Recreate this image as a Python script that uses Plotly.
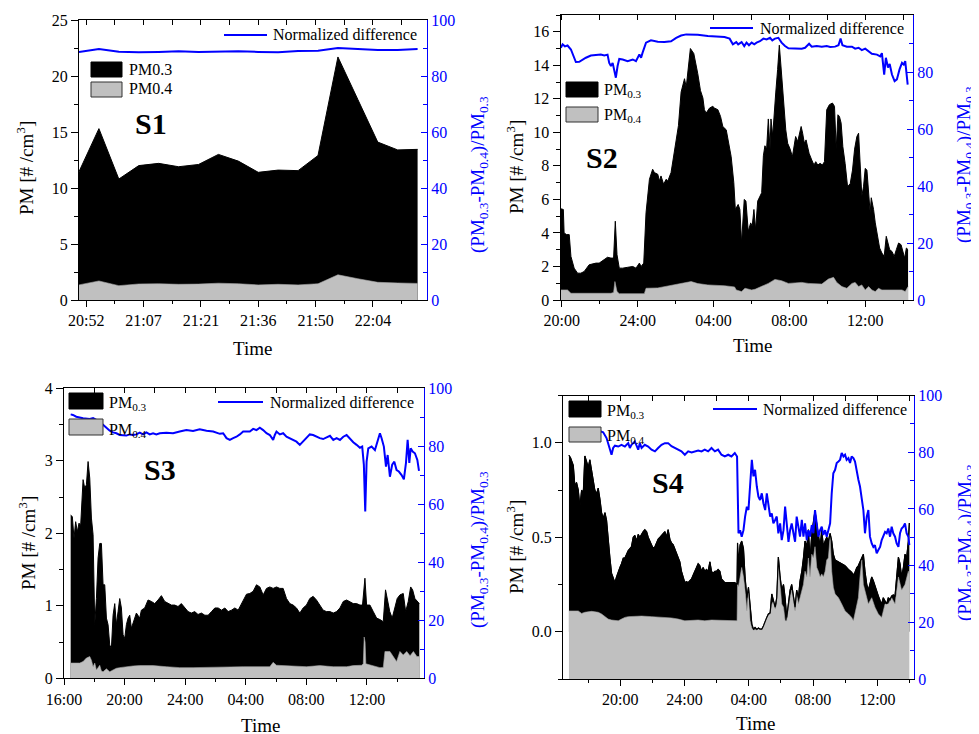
import plotly.graph_objects as go

# page body keeps its default 8px margin, so the figure is drawn 8px in
OFF = 8
W, H = 979 - OFF, 734 - OFF
FONT = "Liberation Serif"
BLUE = "#0000FF"
GREY = "#C0C0C0"

# ---------------- S1 (5-min samples) ----------------
S1_TIME = ["20:51", "20:56", "21:01", "21:06", "21:11", "21:16", "21:21", "21:26", "21:31",
           "21:36", "21:41", "21:46", "21:51", "21:56", "22:01", "22:06", "22:11", "22:16"]
S1_PM03 = [11.46, 15.3, 10.8, 12.0, 12.2, 11.9, 12.1, 13.0, 12.4,
           11.4, 11.6, 11.55, 12.9, 21.7, 17.9, 14.1, 13.4, 13.45]
S1_PM04 = [1.35, 1.7, 1.28, 1.43, 1.45, 1.4, 1.42, 1.5, 1.45,
           1.35, 1.4, 1.35, 1.45, 2.25, 1.9, 1.58, 1.52, 1.48]
S1_ND = [88.6, 89.6, 88.7, 88.5, 88.6, 88.8, 88.6, 88.7, 88.8,
         88.6, 88.5, 88.9, 89.0, 90.0, 89.7, 89.3, 89.3, 89.6]
S1_TICKS = ["20:52", "21:07", "21:21", "21:36", "21:50", "22:04"]

# ---------------- S2 (hours since midnight of first day) ----------------
S2_PM03 = [(19.95, 5.44), (20.08, 5.4), (20.12, 4.0), (20.25, 3.9), (20.39, 3.9), (20.48, 2.6),
           (20.65, 1.9), (20.83, 1.6), (21.00, 1.6), (21.18, 1.7), (21.44, 2.1), (21.80, 2.2),
           (21.97, 2.2), (22.24, 2.4), (22.41, 2.55), (22.59, 2.5), (22.73, 2.5), (22.82, 4.7),
           (22.91, 2.7), (23.03, 1.9), (23.21, 1.9), (23.47, 1.95), (23.74, 2.0), (23.91, 1.9),
           (24.09, 2.2), (24.18, 2.0), (24.32, 2.2), (24.44, 5.2), (24.62, 7.2), (24.79, 7.8),
           (24.88, 7.6), (25.06, 7.5), (25.15, 7.1), (25.23, 7.4), (25.37, 6.9), (25.50, 7.2),
           (25.59, 7.1), (25.76, 7.6), (25.94, 9.0), (26.03, 9.6), (26.15, 10.4), (26.29, 12.4),
           (26.47, 13.2), (26.56, 12.7), (26.64, 13.7), (26.78, 15.0), (26.96, 14.7), (27.08, 14.1),
           (27.17, 13.5), (27.31, 12.5), (27.44, 12.05), (27.52, 11.35), (27.61, 11.15), (27.79, 11.45),
           (27.96, 11.55), (28.05, 11.45), (28.23, 11.35), (28.37, 10.95), (28.49, 10.35), (28.67, 10.15),
           (28.85, 9.15), (28.93, 8.55), (29.07, 7.0), (29.15, 5.4), (29.30, 5.7), (29.39, 5.4),
           (29.48, 3.4), (29.62, 6.0), (29.71, 5.9), (29.83, 4.1), (29.96, 4.6), (30.04, 4.4),
           (30.13, 5.4), (30.22, 4.2), (30.33, 5.9), (30.45, 6.2), (30.54, 6.4), (30.63, 8.6),
           (30.71, 9.2), (30.80, 9.0), (30.89, 10.8), (30.98, 9.0), (31.03, 10.8), (31.12, 9.8),
           (31.21, 11.55), (31.28, 12.35), (31.38, 13.75), (31.47, 15.2), (31.56, 13.9), (31.68, 12.15),
           (31.81, 10.15), (31.91, 9.35), (32.04, 9.0), (32.16, 8.55), (32.25, 9.15), (32.33, 9.75),
           (32.44, 9.45), (32.53, 9.85), (32.62, 10.35), (32.70, 9.95), (32.79, 9.35), (32.88, 9.55),
           (32.97, 9.15), (33.04, 8.75), (33.18, 8.35), (33.30, 8.05), (33.39, 8.25), (33.50, 8.05),
           (33.62, 8.15), (33.74, 8.05), (33.85, 8.25), (33.97, 11.35), (34.11, 11.65), (34.27, 11.75),
           (34.38, 11.55), (34.47, 9.0), (34.56, 11.05), (34.64, 10.95), (34.73, 10.55), (34.82, 9.15),
           (34.94, 8.15), (35.07, 6.75), (35.21, 6.95), (35.33, 7.75), (35.44, 9.0), (35.56, 9.75),
           (35.65, 9.95), (35.74, 8.15), (35.82, 6.2), (35.91, 6.75), (36.00, 7.85), (36.09, 7.75),
           (36.18, 6.2), (36.26, 5.2), (36.32, 6.1), (36.44, 5.4), (36.53, 4.6), (36.65, 3.8),
           (36.76, 3.1), (36.88, 2.8), (37.00, 2.6), (37.11, 3.8), (37.20, 3.4), (37.29, 3.0),
           (37.41, 2.9), (37.53, 2.6), (37.64, 3.0), (37.76, 3.4), (37.89, 3.3), (37.99, 2.8),
           (38.08, 2.5), (38.17, 3.1), (38.26, 3.0)]
S2_PM04 = [(19.95, 0.6), (20.30, 0.6), (20.48, 0.4), (21.53, 0.38), (22.59, 0.4), (22.73, 0.45),
           (22.80, 1.1), (22.91, 0.5), (23.03, 0.38), (24.35, 0.38), (24.44, 0.7), (25.06, 0.72),
           (25.94, 0.9), (26.47, 0.99), (26.82, 1.1), (27.17, 0.98), (27.70, 0.9), (28.58, 0.85),
           (29.11, 0.78), (29.20, 0.6), (29.48, 0.5), (29.66, 0.7), (30.01, 0.6), (30.19, 0.64),
           (30.54, 0.8), (30.89, 0.99), (31.24, 1.23), (31.59, 1.15), (31.95, 0.99), (32.30, 1.0),
           (32.65, 1.05), (33.00, 0.99), (33.36, 0.95), (33.71, 0.95), (34.06, 1.25), (34.33, 1.35),
           (34.50, 1.05), (34.77, 0.8), (35.03, 0.7), (35.30, 0.99), (35.47, 1.05), (35.65, 0.8),
           (35.82, 0.9), (36.00, 0.6), (36.18, 0.8), (36.35, 0.6), (36.53, 0.5), (36.70, 0.7),
           (36.88, 0.6), (37.23, 0.6), (37.58, 0.64), (37.94, 0.6), (38.11, 0.5), (38.26, 0.8)]
S2_ND = [(19.95, 88.5), (20.04, 89.7), (20.16, 89.0), (20.30, 89.3), (20.48, 87.9), (20.65, 85.0),
         (20.74, 83.5), (20.92, 83.6), (21.09, 84.4), (21.27, 85.0), (21.53, 85.8), (21.80, 86.0),
         (22.06, 86.1), (22.24, 85.8), (22.41, 86.1), (22.50, 83.2), (22.59, 82.1), (22.68, 83.2),
         (22.77, 79.7), (22.85, 78.0), (22.94, 82.1), (23.03, 84.6), (23.21, 84.4), (23.47, 83.8),
         (23.74, 84.4), (23.91, 83.8), (24.09, 86.2), (24.18, 85.0), (24.26, 86.8), (24.44, 90.3),
         (24.70, 91.1), (25.06, 90.6), (25.41, 90.5), (25.76, 90.8), (26.03, 92.0), (26.29, 92.8),
         (26.56, 93.2), (27.17, 93.1), (27.70, 92.6), (28.23, 92.4), (28.58, 92.3), (28.85, 91.7),
         (29.02, 89.7), (29.20, 90.5), (29.30, 89.7), (29.48, 90.5), (29.62, 89.1), (29.74, 90.3),
         (29.87, 89.4), (30.01, 90.3), (30.15, 89.7), (30.27, 90.3), (30.45, 90.8), (30.63, 91.7),
         (30.80, 91.4), (30.98, 92.0), (31.10, 91.1), (31.24, 91.7), (31.42, 92.0), (31.59, 90.3),
         (31.77, 89.1), (31.95, 88.3), (32.30, 88.2), (32.65, 88.2), (32.83, 88.5), (33.04, 89.9),
         (33.18, 88.9), (33.44, 89.1), (33.71, 88.9), (33.97, 89.1), (34.15, 88.8), (34.41, 88.9),
         (34.59, 89.4), (34.70, 91.7), (34.80, 89.4), (35.03, 88.9), (35.30, 88.9), (35.47, 88.2),
         (35.65, 88.5), (35.82, 87.7), (36.00, 88.2), (36.18, 87.3), (36.35, 86.4), (36.62, 86.1),
         (36.79, 85.5), (36.88, 86.6), (37.00, 79.1), (37.09, 85.0), (37.20, 81.6), (37.29, 82.8),
         (37.41, 79.1), (37.55, 76.8), (37.67, 77.4), (37.81, 80.9), (37.94, 83.2), (38.03, 82.6),
         (38.11, 83.8), (38.24, 75.6)]

# ---------------- S3 ----------------
S3_PM03 = [(16.44, 2.25), (16.55, 2.23), (16.66, 1.93), (16.77, 2.16), (16.88, 2.02), (16.99, 2.14),
           (17.10, 2.11), (17.26, 2.74), (17.37, 2.62), (17.48, 2.67), (17.59, 2.99), (17.70, 2.76),
           (17.81, 2.21), (17.92, 1.98), (18.03, 0.74), (18.14, 1.10), (18.25, 1.66), (18.36, 1.86),
           (18.47, 1.86), (18.58, 1.29), (18.69, 1.29), (18.80, 0.83), (18.91, 0.74), (19.02, 0.46),
           (19.13, 0.41), (19.24, 0.87), (19.35, 1.03), (19.46, 0.74), (19.57, 0.92), (19.68, 1.10),
           (19.79, 0.97), (19.90, 0.60), (20.01, 0.55), (20.12, 0.74), (20.23, 0.83), (20.34, 0.87),
           (20.45, 0.69), (20.56, 0.76), (20.78, 0.90), (21.00, 0.83), (21.11, 0.94), (21.33, 0.97),
           (21.55, 1.08), (21.77, 1.06), (21.99, 1.03), (22.21, 1.08), (22.43, 1.14), (22.65, 1.06),
           (22.87, 1.03), (23.09, 1.01), (23.31, 1.01), (23.53, 0.99), (23.75, 1.03), (23.97, 0.97),
           (24.19, 0.92), (24.41, 0.90), (24.63, 0.92), (24.85, 0.88), (25.07, 0.90), (25.30, 0.87),
           (25.52, 0.87), (25.74, 0.92), (25.96, 0.97), (26.18, 0.97), (26.40, 0.94), (26.62, 0.97),
           (26.84, 0.92), (27.06, 0.94), (27.28, 0.97), (27.50, 0.94), (27.83, 1.08), (28.05, 1.16),
           (28.27, 1.17), (28.49, 1.20), (28.71, 1.29), (28.93, 1.26), (29.15, 1.15), (29.37, 1.24),
           (29.59, 1.26), (29.81, 1.24), (30.03, 1.26), (30.25, 1.24), (30.47, 1.24), (30.69, 1.10),
           (30.91, 1.03), (31.13, 1.01), (31.35, 0.97), (31.57, 0.90), (31.79, 0.97), (32.01, 1.01),
           (32.23, 1.10), (32.45, 1.13), (32.67, 1.08), (32.89, 1.01), (33.11, 0.94), (33.33, 0.92),
           (33.56, 0.92), (33.78, 0.90), (34.00, 0.92), (34.22, 0.97), (34.44, 1.06), (34.66, 1.08),
           (34.88, 1.06), (35.10, 1.03), (35.32, 1.03), (35.54, 1.01), (35.71, 1.01), (35.87, 1.38),
           (35.98, 1.01), (36.20, 1.01), (36.42, 0.92), (36.64, 0.83), (36.86, 0.81), (37.08, 0.78),
           (37.23, 1.22), (37.36, 1.10), (37.51, 0.92), (37.67, 0.83), (37.84, 0.99), (38.00, 1.10),
           (38.18, 1.15), (38.40, 1.17), (38.56, 0.92), (38.73, 1.06), (38.89, 1.26), (39.02, 1.22),
           (39.17, 1.10), (39.33, 1.06), (39.46, 1.03)]
S3_PM04 = [(16.44, 0.21), (17.04, 0.21), (17.26, 0.23), (17.48, 0.28), (17.70, 0.30), (17.81, 0.25),
           (17.92, 0.16), (18.03, 0.21), (18.14, 0.115), (18.25, 0.147), (18.36, 0.18), (18.47, 0.10),
           (18.58, 0.09), (18.80, 0.13), (19.02, 0.09), (19.24, 0.115), (19.46, 0.138), (19.68, 0.147),
           (20.12, 0.16), (20.56, 0.17), (21.00, 0.175), (21.88, 0.175), (22.76, 0.16), (23.64, 0.147),
           (24.52, 0.147), (25.41, 0.152), (26.29, 0.156), (27.17, 0.16), (27.83, 0.16), (29.59, 0.16),
           (29.81, 0.22), (30.03, 0.18), (30.47, 0.175), (31.13, 0.16), (32.01, 0.16), (32.89, 0.175),
           (33.78, 0.16), (34.66, 0.16), (35.10, 0.175), (35.65, 0.18), (35.76, 0.20), (35.82, 0.57),
           (35.88, 0.50), (35.93, 0.20), (36.09, 0.19), (36.42, 0.18), (36.86, 0.147), (37.08, 0.15),
           (37.19, 0.37), (37.52, 0.37), (37.74, 0.30), (37.96, 0.23), (38.18, 0.37), (38.40, 0.32),
           (38.63, 0.37), (38.85, 0.31), (39.07, 0.37), (39.30, 0.30), (39.46, 0.30)]
S3_ND = [(16.44, 91.0), (16.59, 90.8), (16.81, 90.2), (17.04, 89.9), (17.26, 89.7), (17.70, 89.4),
         (17.92, 89.7), (18.14, 89.1), (18.36, 88.7), (18.58, 87.4), (18.80, 86.4), (19.02, 85.4),
         (19.24, 84.8), (19.46, 84.5), (19.68, 83.9), (19.90, 83.9), (20.12, 83.7), (20.34, 84.1),
         (20.56, 83.9), (20.78, 84.1), (21.00, 84.7), (21.22, 84.1), (21.44, 84.8), (21.66, 84.1),
         (21.88, 84.5), (22.10, 84.1), (22.32, 84.5), (22.76, 84.7), (23.20, 84.5), (23.64, 85.1),
         (24.08, 85.6), (24.52, 85.3), (24.96, 85.9), (25.41, 85.4), (25.85, 85.1), (26.29, 84.3),
         (26.51, 84.5), (26.73, 82.8), (26.95, 82.2), (27.17, 82.8), (27.39, 83.3), (27.61, 84.1),
         (27.83, 85.1), (28.27, 85.1), (28.49, 86.0), (28.71, 85.6), (28.93, 86.4), (29.15, 85.6),
         (29.37, 84.5), (29.59, 83.9), (29.81, 82.2), (29.92, 83.9), (30.03, 85.1), (30.25, 84.1),
         (30.47, 84.5), (30.69, 83.3), (30.91, 82.8), (31.13, 82.2), (31.35, 81.6), (31.57, 80.5),
         (31.79, 81.6), (32.01, 82.8), (32.23, 84.1), (32.45, 83.9), (32.67, 83.3), (32.89, 82.8),
         (33.11, 82.5), (33.33, 83.0), (33.56, 83.6), (33.78, 82.2), (34.00, 82.8), (34.22, 82.2),
         (34.44, 83.3), (34.66, 83.9), (34.88, 82.5), (35.10, 81.4), (35.32, 80.5), (35.54, 79.5),
         (35.69, 79.9), (35.80, 73.6), (35.89, 57.5), (35.98, 74.7), (36.09, 79.3), (36.31, 79.9),
         (36.53, 78.7), (36.68, 81.6), (36.86, 84.5), (36.97, 82.8), (37.12, 79.9), (37.26, 73.0),
         (37.37, 77.0), (37.52, 69.5), (37.67, 73.7), (37.81, 74.7), (37.96, 71.8), (38.11, 71.3),
         (38.29, 70.1), (38.44, 68.6), (38.58, 74.3), (38.69, 82.2), (38.80, 74.3), (38.89, 79.3),
         (39.02, 78.2), (39.17, 77.6), (39.33, 75.3), (39.44, 71.5)]

# ---------------- S4 ----------------
S4_PM03 = [(16.81, 0.934), (16.91, 0.92), (17.08, 0.88), (17.18, 0.77), (17.28, 0.79), (17.39, 0.75),
           (17.49, 0.66), (17.60, 0.75), (17.70, 0.73), (17.80, 0.93), (17.91, 0.90), (18.01, 0.87),
           (18.11, 0.91), (18.22, 0.86), (18.32, 0.80), (18.42, 0.75), (18.53, 0.73), (18.63, 0.76),
           (18.74, 0.70), (18.84, 0.63), (18.94, 0.60), (19.05, 0.63), (19.15, 0.59), (19.25, 0.48),
           (19.36, 0.39), (19.46, 0.31), (19.56, 0.29), (19.67, 0.26), (19.77, 0.29), (19.88, 0.32),
           (19.98, 0.34), (20.08, 0.36), (20.19, 0.39), (20.29, 0.39), (20.39, 0.41), (20.50, 0.43),
           (20.60, 0.44), (20.70, 0.45), (20.81, 0.50), (20.91, 0.51), (21.02, 0.48), (21.12, 0.515),
           (21.22, 0.50), (21.33, 0.52), (21.43, 0.53), (21.53, 0.54), (21.64, 0.53), (21.74, 0.50),
           (21.84, 0.48), (21.95, 0.46), (22.05, 0.44), (22.16, 0.45), (22.26, 0.47), (22.36, 0.49),
           (22.47, 0.50), (22.57, 0.51), (22.67, 0.52), (22.78, 0.53), (22.88, 0.50), (22.98, 0.54),
           (23.09, 0.49), (23.19, 0.47), (23.30, 0.46), (23.40, 0.44), (23.50, 0.42), (23.61, 0.39),
           (23.71, 0.37), (23.81, 0.32), (23.92, 0.29), (24.02, 0.26), (24.12, 0.265), (24.23, 0.26),
           (24.33, 0.27), (24.44, 0.28), (24.54, 0.30), (24.64, 0.32), (24.75, 0.34), (24.85, 0.36),
           (24.95, 0.35), (25.06, 0.32), (25.16, 0.34), (25.26, 0.32), (25.37, 0.33), (25.47, 0.32),
           (25.58, 0.37), (25.68, 0.32), (25.78, 0.31), (25.89, 0.32), (25.99, 0.32), (26.09, 0.33),
           (26.20, 0.32), (26.30, 0.28), (26.51, 0.26), (26.72, 0.26), (26.92, 0.26), (27.13, 0.26),
           (27.27, 0.25), (27.30, 0.47), (27.36, 0.36), (27.46, 0.46), (27.56, 0.48), (27.67, 0.44),
           (27.77, 0.29), (27.88, 0.18), (27.98, 0.235), (28.08, 0.147), (28.19, 0.04), (28.29, 0.014),
           (28.39, 0.023), (28.50, 0.012), (28.60, 0.02), (28.70, 0.014), (28.81, 0.014), (28.91, 0.03),
           (29.02, 0.06), (29.12, 0.076), (29.22, 0.094), (29.33, 0.10), (29.43, 0.20), (29.53, 0.17),
           (29.64, 0.13), (29.74, 0.18), (29.84, 0.395), (29.95, 0.29), (30.05, 0.22), (30.16, 0.25),
           (30.26, 0.18), (30.36, 0.076), (30.47, 0.147), (30.57, 0.22), (30.67, 0.25), (30.78, 0.18),
           (30.88, 0.13), (30.98, 0.22), (31.09, 0.18), (31.19, 0.27), (31.30, 0.32), (31.40, 0.39),
           (31.50, 0.48), (31.61, 0.45), (31.71, 0.54), (31.81, 0.38), (31.92, 0.52), (32.02, 0.58),
           (32.12, 0.64), (32.23, 0.57), (32.33, 0.52), (32.44, 0.45), (32.54, 0.54), (32.64, 0.45),
           (32.75, 0.48), (32.85, 0.50), (32.95, 0.48), (33.06, 0.52), (33.16, 0.48), (33.26, 0.41),
           (33.37, 0.38), (33.58, 0.37), (33.78, 0.36), (33.99, 0.35), (34.20, 0.33), (34.40, 0.315),
           (34.51, 0.30), (34.61, 0.315), (34.72, 0.34), (34.82, 0.35), (34.92, 0.37), (35.03, 0.39),
           (35.13, 0.41), (35.23, 0.32), (35.34, 0.25), (35.44, 0.22), (35.54, 0.25), (35.65, 0.29),
           (35.75, 0.27), (35.85, 0.24), (35.96, 0.22), (36.06, 0.19), (36.17, 0.165), (36.27, 0.147),
           (36.37, 0.18), (36.48, 0.165), (36.58, 0.147), (36.68, 0.18), (36.79, 0.17), (36.89, 0.19),
           (36.99, 0.195), (37.10, 0.19), (37.20, 0.29), (37.31, 0.395), (37.41, 0.36), (37.51, 0.29),
           (37.62, 0.34), (37.72, 0.41), (37.82, 0.39), (37.93, 0.48), (37.99, 0.575)]
S4_PM04 = [(16.81, 0.11), (17.39, 0.11), (17.60, 0.097), (17.80, 0.103), (18.22, 0.108), (18.63, 0.103),
           (18.84, 0.094), (19.05, 0.08), (19.25, 0.067), (19.46, 0.062), (19.67, 0.058), (19.88, 0.058),
           (20.08, 0.067), (20.29, 0.076), (20.50, 0.08), (21.33, 0.083), (21.95, 0.08), (22.78, 0.076),
           (23.19, 0.073), (23.61, 0.067), (24.02, 0.058), (24.85, 0.062), (25.26, 0.058), (25.68, 0.062),
           (26.51, 0.058), (27.27, 0.058), (27.30, 0.25), (27.36, 0.24), (27.46, 0.29), (27.56, 0.34),
           (27.67, 0.29), (27.77, 0.22), (27.88, 0.11), (27.98, 0.22), (28.08, 0.058), (28.19, 0.02),
           (28.29, 0.009), (28.60, 0.014), (28.81, 0.011), (28.91, 0.04), (29.02, 0.058), (29.22, 0.09),
           (29.33, 0.094), (29.43, 0.147), (29.53, 0.16), (29.64, 0.12), (29.74, 0.147), (29.84, 0.36),
           (29.95, 0.22), (30.05, 0.147), (30.16, 0.13), (30.26, 0.058), (30.36, 0.058), (30.47, 0.13),
           (30.57, 0.18), (30.67, 0.22), (30.78, 0.147), (30.88, 0.11), (30.98, 0.20), (31.09, 0.147),
           (31.19, 0.18), (31.30, 0.22), (31.40, 0.25), (31.50, 0.32), (31.61, 0.29), (31.71, 0.39),
           (31.81, 0.29), (31.92, 0.41), (32.02, 0.39), (32.12, 0.45), (32.23, 0.34), (32.33, 0.32),
           (32.44, 0.29), (32.54, 0.306), (32.64, 0.29), (32.75, 0.32), (32.85, 0.38), (32.95, 0.39),
           (33.06, 0.50), (33.16, 0.32), (33.26, 0.235), (33.37, 0.20), (33.58, 0.18), (33.78, 0.147),
           (33.99, 0.11), (34.20, 0.094), (34.40, 0.076), (34.51, 0.058), (34.61, 0.094), (34.72, 0.147),
           (34.82, 0.18), (34.92, 0.29), (35.03, 0.38), (35.13, 0.25), (35.23, 0.22), (35.34, 0.18),
           (35.44, 0.147), (35.65, 0.18), (35.85, 0.13), (36.06, 0.094), (36.27, 0.076), (36.48, 0.147),
           (36.68, 0.147), (36.89, 0.18), (37.10, 0.147), (37.31, 0.29), (37.51, 0.22), (37.72, 0.25),
           (37.93, 0.32), (37.99, 0.30)]
S4_ND = [(16.81, 88.2), (17.31, 88.0), (17.93, 88.0), (18.55, 87.8), (18.80, 87.4), (18.94, 87.0),
         (19.15, 85.0), (19.25, 83.2), (19.36, 81.5), (19.46, 79.1), (19.56, 81.5), (19.67, 82.3),
         (19.88, 82.0), (20.08, 82.6), (20.29, 82.0), (20.50, 83.2), (20.60, 81.5), (20.70, 82.6),
         (20.91, 83.8), (21.12, 80.9), (21.22, 83.2), (21.33, 81.5), (21.53, 82.6), (21.74, 82.0),
         (21.95, 80.9), (22.16, 80.3), (22.36, 81.5), (22.57, 82.6), (22.78, 83.2), (22.98, 83.2),
         (23.19, 82.1), (23.40, 81.5), (23.61, 80.9), (23.81, 80.3), (24.02, 79.1), (24.23, 80.3),
         (24.44, 79.9), (24.64, 80.3), (24.85, 80.6), (25.06, 80.3), (25.26, 80.9), (25.47, 80.3),
         (25.68, 81.5), (25.89, 80.3), (26.09, 80.9), (26.30, 79.1), (26.51, 78.5), (26.72, 79.1),
         (26.92, 78.5), (27.13, 79.7), (27.27, 78.5), (27.36, 51.4), (27.46, 52.5), (27.56, 50.2),
         (27.67, 52.5), (27.77, 57.3), (27.88, 60.8), (27.98, 59.6), (28.08, 66.7), (28.19, 77.3),
         (28.29, 71.5), (28.39, 73.8), (28.50, 67.9), (28.60, 64.3), (28.70, 63.1), (28.81, 65.5),
         (28.91, 62.0), (29.02, 59.6), (29.12, 65.5), (29.22, 62.0), (29.33, 57.3), (29.43, 58.4),
         (29.53, 54.9), (29.64, 56.1), (29.74, 57.3), (29.84, 51.4), (29.95, 54.9), (30.05, 49.0),
         (30.16, 52.5), (30.26, 60.8), (30.36, 54.9), (30.47, 48.4), (30.57, 52.5), (30.67, 54.9),
         (30.78, 51.4), (30.88, 48.4), (30.98, 57.3), (31.09, 52.5), (31.19, 50.2), (31.30, 56.1),
         (31.40, 50.2), (31.50, 54.9), (31.61, 49.0), (31.71, 52.5), (31.81, 50.2), (31.92, 54.3),
         (32.02, 51.4), (32.12, 59.6), (32.23, 54.9), (32.33, 50.2), (32.44, 52.5), (32.54, 53.7),
         (32.64, 50.8), (32.75, 52.5), (32.85, 50.2), (32.95, 52.5), (33.06, 54.9), (33.16, 65.5),
         (33.26, 72.6), (33.37, 73.8), (33.47, 76.2), (33.58, 76.7), (33.68, 77.3), (33.78, 79.7),
         (33.89, 78.5), (33.99, 79.1), (34.09, 77.3), (34.20, 77.9), (34.30, 76.2), (34.40, 78.5),
         (34.51, 77.9), (34.61, 76.7), (34.72, 72.6), (34.82, 70.3), (34.92, 67.9), (35.03, 64.3),
         (35.13, 59.6), (35.23, 51.4), (35.34, 57.3), (35.44, 59.6), (35.54, 50.2), (35.65, 47.8),
         (35.75, 46.6), (35.85, 47.2), (35.96, 44.3), (36.06, 45.5), (36.17, 46.6), (36.27, 49.0),
         (36.37, 50.2), (36.48, 51.9), (36.58, 51.4), (36.68, 53.1), (36.79, 50.2), (36.89, 53.7),
         (36.99, 51.4), (37.10, 50.2), (37.20, 47.8), (37.31, 46.6), (37.41, 51.4), (37.51, 53.1),
         (37.62, 53.7), (37.72, 54.9), (37.82, 51.4), (37.93, 50.2), (37.99, 47.2)]

DAY_TICKS = ["20:00", "24:00", "04:00", "08:00", "12:00"]
S3_TICKS = ["16:00"] + DAY_TICKS


def hm(t):
    h, m = t.split(":")
    return int(h) + int(m) / 60


def split(pairs):
    return [p[0] for p in pairs], [p[1] for p in pairs]


# reference pixel -> paper fraction
def fx(x):
    return (x - OFF) / W


def fy(y):
    return 1 - (y - OFF) / H


fig = go.Figure()


def add_panel(k, pm03, pm04, nd, ybase=0):
    xa = "x" if k == 1 else f"x{k}"
    ya = "y" if k == 1 else f"y{k}"
    yr = f"y{k + 4}"
    t3, v3 = pm03
    t4, v4 = pm04
    tn, vn = nd
    fig.add_trace(go.Scatter(x=t3, y=v3, xaxis=xa, yaxis=ya, mode="lines",
                             line=dict(color="black", width=1), fill="tozeroy",
                             fillcolor="black", showlegend=False, hoverinfo="skip"))
    if ybase == 0:
        fig.add_trace(go.Scatter(x=t4, y=v4, xaxis=xa, yaxis=ya, mode="lines",
                                 line=dict(color="#a8a8a8", width=0.6), fill="tozeroy",
                                 fillcolor=GREY, showlegend=False, hoverinfo="skip"))
    else:
        # gray area reaches down to the bottom of the axis
        fig.add_trace(go.Scatter(x=t4, y=[ybase] * len(t4), xaxis=xa, yaxis=ya, mode="lines",
                                 line=dict(width=0), showlegend=False, hoverinfo="skip"))
        fig.add_trace(go.Scatter(x=t4, y=v4, xaxis=xa, yaxis=ya, mode="lines",
                                 line=dict(color="#a8a8a8", width=0.6), fill="tonexty",
                                 fillcolor=GREY, showlegend=False, hoverinfo="skip"))
        fig.add_trace(go.Scatter(x=t3, y=v3, xaxis=xa, yaxis=ya, mode="lines",
                                 line=dict(color="black", width=1.2),
                                 showlegend=False, hoverinfo="skip"))
    fig.add_trace(go.Scatter(x=tn, y=vn, xaxis=xa, yaxis=yr, mode="lines",
                             line=dict(color=BLUE, width=2), showlegend=False, hoverinfo="skip"))
    # empty trace so the top tick axis gets drawn
    fig.add_trace(go.Scatter(x=[], y=[], xaxis=f"x{k + 4}", yaxis=ya, mode="lines",
                             showlegend=False, hoverinfo="skip"))


s1_t = [hm(t) for t in S1_TIME]
add_panel(1, (s1_t, S1_PM03), (s1_t, S1_PM04), (s1_t, S1_ND))
add_panel(2, split(S2_PM03), split(S2_PM04), split(S2_ND))
add_panel(3, split(S3_PM03), split(S3_PM04), split(S3_ND))
add_panel(4, split(S4_PM03), split(S4_PM04), split(S4_ND), ybase=-0.25)

# panel boxes in reference pixels: x0, x1, y0(top), y1(bottom)
BOXES = {1: (79, 427, 20, 300), 2: (560.5, 913, 15, 300),
         3: (64, 424, 388.3, 678.3), 4: (563, 914, 395.5, 679)}

tickfont = dict(family=FONT, size=16, color="black")
bluefont = dict(family=FONT, size=16, color=BLUE)

XCFG = {
    1: dict(range=[20.85, 22.306], tickvals=[20.88, 21.12, 21.36, 21.60, 21.84, 22.08],
            ticktext=S1_TICKS, minor_tick0=21.0, minor_dtick=0.24),
    2: dict(range=[19.93, 38.52], tickvals=[20, 24, 28, 32, 36], ticktext=DAY_TICKS,
            minor_tick0=22, minor_dtick=4),
    3: dict(range=[16.0, 39.77], tickvals=[16, 20, 24, 28, 32, 36], ticktext=S3_TICKS,
            minor_tick0=18, minor_dtick=4),
    4: dict(range=[16.44, 38.28], tickvals=[20, 24, 28, 32, 36], ticktext=DAY_TICKS,
            minor_tick0=18, minor_dtick=4),
}
YCFG = {
    1: dict(range=[0, 25], dtick=5, minor=2.5, fmt=""),
    2: dict(range=[0, 17], dtick=2, minor=1, fmt=""),
    3: dict(range=[0, 4], dtick=1, minor=0.5, fmt=""),
    4: dict(range=[-0.25, 1.25], dtick=0.5, minor=0.25, fmt=".1f"),
}

for k in range(1, 5):
    x0, x1, y0, y1 = BOXES[k]
    xs = "" if k == 1 else str(k)
    xc, yc = XCFG[k], YCFG[k]
    fig.layout["xaxis" + xs] = dict(
        domain=[fx(x0), fx(x1)], anchor="y" + xs, range=xc["range"],
        tickmode="array", tickvals=xc["tickvals"], ticktext=xc["ticktext"],
        ticks="outside", ticklen=6, tickcolor="black", tickfont=tickfont,
        minor=dict(ticks="outside", ticklen=3, tickcolor="black",
                   tick0=xc["minor_tick0"], dtick=xc["minor_dtick"]),
        showline=True, linecolor="black", linewidth=1, mirror=True,
        showgrid=False, zeroline=False, automargin=False, fixedrange=True)
    # top edge: ticks pointing into the plot, no labels
    fig.layout[f"xaxis{k + 4}"] = dict(
        overlaying="x" + xs, side="top", anchor="y" + xs, range=xc["range"],
        tickmode="array", tickvals=xc["tickvals"], showticklabels=False,
        ticks="inside", ticklen=5, tickcolor="black",
        minor=dict(ticks="inside", ticklen=5, tickcolor="black",
                   tick0=xc["minor_tick0"], dtick=xc["minor_dtick"]),
        showline=False, showgrid=False, zeroline=False, automargin=False, fixedrange=True)
    fig.layout["yaxis" + xs] = dict(
        domain=[fy(y1), fy(y0)], anchor="x" + xs, range=yc["range"],
        tick0=0, dtick=yc["dtick"], tickformat=yc["fmt"],
        ticks="outside", ticklen=7, tickcolor="black", tickfont=tickfont,
        minor=dict(ticks="outside", ticklen=4, tickcolor="black", tick0=0, dtick=yc["minor"]),
        showline=True, linecolor="black", linewidth=1,
        showgrid=False, zeroline=False, automargin=False, fixedrange=True)
    fig.layout[f"yaxis{k + 4}"] = dict(
        overlaying="y" + xs, side="right", anchor="x" + xs, range=[0, 100],
        tick0=0, dtick=20, ticks="inside", ticklen=6, tickcolor=BLUE, tickfont=bluefont,
        minor=dict(ticks="inside", ticklen=4, tickcolor=BLUE, tick0=0, dtick=10),
        showline=True, linecolor=BLUE, linewidth=1.2,
        showgrid=False, zeroline=False, automargin=False, fixedrange=True)


def ann(text, x, y, size=16, color="black", angle=0, xanchor="left"):
    fig.add_annotation(text=text, x=fx(x), y=fy(y), xref="paper", yref="paper",
                       showarrow=False, textangle=angle, xanchor=xanchor, yanchor="middle",
                       font=dict(family=FONT, size=size, color=color))


def box(x0, y0, x1, y1, fill, line):
    fig.add_shape(type="rect", xref="paper", yref="paper", layer="above",
                  x0=fx(x0), x1=fx(x1), y0=fy(y1), y1=fy(y0),
                  fillcolor=fill, line=dict(color=line, width=1))


def hline(x0, x1, y):
    fig.add_shape(type="line", xref="paper", yref="paper", layer="above",
                  x0=fx(x0), x1=fx(x1), y0=fy(y), y1=fy(y),
                  line=dict(color=BLUE, width=2))


PM03 = "PM<sub>0.3</sub>"
PM04 = "PM<sub>0.4</sub>"
LEFT_T = "PM [# /cm<sup>3</sup>]"
RIGHT_T = "(PM<sub>0.3</sub>-PM<sub>0.4</sub>)/PM<sub>0.3</sub>"

LEG = {
    # black box, gray box, text x, text ys, nd line (x0, x1, y), nd text x, panel label
    1: ((91, 62, 122, 77), (91, 82, 122, 97), 127, (69, 89), (224, 267, 35), 271, (151, 123)),
    2: ((566, 82, 598, 97), (566, 107, 598, 122), 602, (90, 115), (710, 753, 28), 758, (602, 158)),
    3: ((69, 393, 103, 409), (69, 419, 103, 435), 107, (404, 430), (218, 263, 402), 268, (160, 469)),
    4: ((569, 401, 601, 417), (569, 427, 601, 442), 605, (411, 436), (713, 757, 409), 761, (668, 482)),
}
TITLES = {
    1: ((25, 168), (479, 175), (253, 348)),
    2: ((515, 167), (965, 165), (752, 345)),
    3: ((27, 543), (479, 550), (260, 725)),
    4: ((515, 547), (966, 543), (755, 723)),
}

for k in range(1, 5):
    bb, gb, tx, tys, ndl, ndx, lab = LEG[k]
    box(*bb, "black", "black")
    box(*gb, GREY, "#333333")
    if k == 1:
        ann("PM0.3", tx, tys[0])
        ann("PM0.4", tx, tys[1])
    else:
        ann(PM03, tx, tys[0])
        ann(PM04, tx, tys[1])
    hline(*ndl)
    ann("Normalized difference", ndx, ndl[2])
    ann(f"<b>S{k}</b>", lab[0], lab[1], size=30, xanchor="center")
    lt, rt, tt = TITLES[k]
    ann(LEFT_T, lt[0], lt[1], size=19, angle=-90, xanchor="center")
    ann(RIGHT_T, rt[0], rt[1], size=19, color=BLUE, angle=-90, xanchor="center")
    ann("Time", tt[0], tt[1], size=19, xanchor="center")

fig.update_layout(width=W, height=H, margin=dict(l=0, r=0, t=0, b=0),
                  paper_bgcolor="white", plot_bgcolor="white", showlegend=False)

fig.write_html("out.html")
